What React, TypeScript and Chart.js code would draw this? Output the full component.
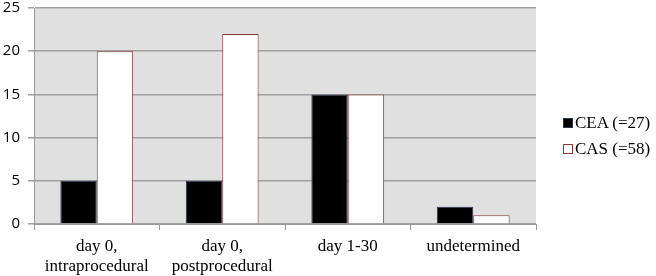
import React, { useEffect, useRef } from "react";
import { Chart, registerables } from "chart.js";

Chart.register(...registerables);

const categories: string[][] = [
  ["day 0,", "intraprocedural"],
  ["day 0,", "postprocedural"],
  ["day 1-30"],
  ["undetermined"],
];
const ceaValues = [5, 5, 15, 2];
const casValues = [20, 22, 15, 1];
const seriesNames = ["CEA (=27)", "CAS (=58)"];
const yTicks = [0, 5, 10, 15, 20, 25];

const bgPlugin = {
  id: "plotBg",
  beforeDraw(chart: any) {
    const { ctx, chartArea } = chart;
    ctx.save();
    ctx.fillStyle = "#e0e0e0";
    ctx.fillRect(chartArea.left, chartArea.top, chartArea.right - chartArea.left, chartArea.bottom - chartArea.top);
    ctx.restore();
  },
};

export default function App() {
  const ref = useRef<HTMLCanvasElement | null>(null);
  useEffect(() => {
    if (!ref.current) return;
    const chart = new Chart(ref.current, {
      type: "bar",
      data: {
        labels: categories,
        datasets: [
          {
            label: seriesNames[0],
            data: ceaValues,
            backgroundColor: "#000000",
            borderColor: "#2a3550",
            borderWidth: 1,
          },
          {
            label: seriesNames[1],
            data: casValues,
            backgroundColor: "#ffffff",
            borderColor: "#8b3a3a",
            borderWidth: 1,
          },
        ],
      },
      options: {
        animation: false,
        responsive: false,
        maintainAspectRatio: false,
        layout: { padding: { top: 8, right: 120, left: 0, bottom: 0 } },
        plugins: { legend: { display: false }, tooltip: { enabled: false } },
        datasets: { bar: { categoryPercentage: 0.58, barPercentage: 1 } },
        scales: {
          x: {
            grid: { offset: true, drawOnChartArea: false, drawTicks: true, tickLength: 6, color: "#999999" },
            border: { color: "#999999" },
            ticks: { font: { family: "'Liberation Serif', serif", size: 17 }, color: "#000", padding: 6, maxRotation: 0 },
            afterFit: (s: any) => { s.height = 52; s.paddingLeft = 0; s.paddingRight = 0; },
          },
          y: {
            min: 0,
            max: 25,
            afterBuildTicks: (s: any) => { s.ticks = yTicks.map((v) => ({ value: v })); },
            grid: { color: "#a0a0a0", lineWidth: 1.5, tickLength: 6 },
            border: { color: "#999999" },
            ticks: { font: { family: "'Open Sans', sans-serif", size: 15 }, color: "#000", padding: 8 },
            afterFit: (s: any) => { s.width = 34; s.paddingTop = 0; s.paddingBottom = 0; },
          },
        },
      },
      plugins: [bgPlugin],
    });
    return () => chart.destroy();
  }, []);
  return (
    <div style={{ position: "fixed", left: 0, top: 0, width: 656, height: 276, background: "#fff" }}>
      <canvas ref={ref} width={656} height={276} style={{ display: "block" }} />
      <div style={{ position: "absolute", left: 563, top: 110, fontFamily: "'Liberation Serif', serif", fontSize: 17, color: "#000", lineHeight: "26px" }}>
        {seriesNames.map((n, i) => (
          <div key={n} style={{ display: "flex", alignItems: "center", whiteSpace: "nowrap" }}>
            <span style={{ display: "inline-block", width: 8, height: 8, background: i === 0 ? "#000" : "#fff", border: i === 0 ? "1px solid #2a3550" : "1px solid #8b3a3a", marginRight: 2 }} />
            {n}
          </div>
        ))}
      </div>
    </div>
  );
}
